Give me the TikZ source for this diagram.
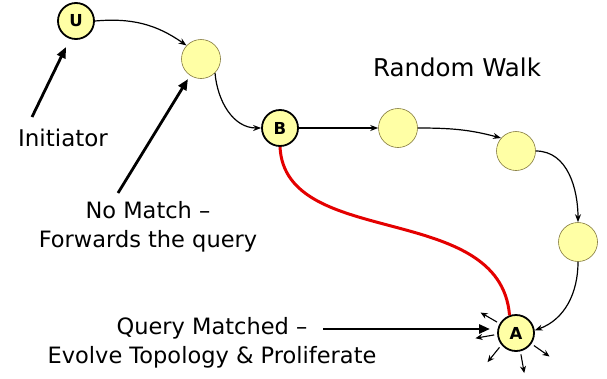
\documentclass[tikz,border=0pt]{standalone}
\usepackage{fontspec}
\setmainfont{DejaVu Sans}
\usetikzlibrary{arrows.meta}
\definecolor{peerfill}{RGB}{255,255,165}
\definecolor{peerline}{RGB}{130,120,60}
\definecolor{hitred}{RGB}{228,0,0}

\begin{document}
\begin{tikzpicture}[x=1pt, y=1pt,
    peer/.style={circle, fill=peerfill, draw=peerline, line width=0.6pt, minimum size=39pt, inner sep=0pt},
    named/.style={peer, draw=black, line width=1.8pt, minimum size=36pt, font=\fontsize{16.5}{16.5}\selectfont\bfseries},
    walk/.style={-{Stealth[length=8pt,width=6pt]}, line width=1.2pt},
    pointer/.style={-{Triangle[length=11pt,width=9pt]}, line width=2.8pt},
    spread/.style={-{Stealth[length=7pt,width=6pt]}, line width=1.1pt},
    note/.style={font=\fontsize{22.5}{29}\selectfont, align=center}]
  \useasboundingbox (0,0) rectangle (607,-378);

  % the peers
  \node[named] (u) at (76,-21) {U};
  \node[peer]  (n1) at (201,-59) {};
  \node[named] (b) at (280,-128) {B};
  \node[peer]  (n2) at (398,-128) {};
  \node[peer]  (n3) at (516,-151) {};
  \node[peer]  (n4) at (578,-242) {};
  \node[named] (a) at (516,-333) {A};

  % walk
  \draw[walk] (u.east) to[out=5, in=145] (n1.137);
  \draw[walk] (n1.-45) to[out=-85, in=180] (b.west);
  \draw[walk] (b) -- (n2);
  \draw[walk] (n2.east) to[out=0, in=165] (n3.139);
  \draw[walk] (n3.east) to[out=0, in=90] (n4.north);
  \draw[walk] (n4.south) to[out=-90, in=20] (a.8);
  \draw[hitred, line width=3pt] (b.south) .. controls (285,-250) and (500,-200) .. (a.110);

  % labels
  \node[note, font=\fontsize{23}{29}\selectfont] (init) at (63,-138) {Initiator};
  \node[note] (nomatch) at (148,-227) {No Match --\\Forwards the query};
  \node[note] (matched) at (212,-343) {Query Matched --\\Evolve Topology \& Proliferate};
  \node[font=\fontsize{24.5}{28}\selectfont] (title) at (457,-67) {Random Walk};

  \coordinate (initTail) at (32,-117);
  \coordinate (nomatchTail) at (118,-193);
  \coordinate (matchedTail) at (323,-329);
  \draw[pointer] (initTail) -- (66,-47);
  \draw[pointer] (nomatchTail) -- (188,-79);
  \draw[pointer] (matchedTail) -- (490,-329);

  % proliferation
  \foreach \ang/\dir in {150/150, 185/190, 221/231, 283/280, 325/325}
    \draw[spread] ([shift={(\ang:3)}]a.\ang) -- +(\dir:19);
\end{tikzpicture}
\end{document}
